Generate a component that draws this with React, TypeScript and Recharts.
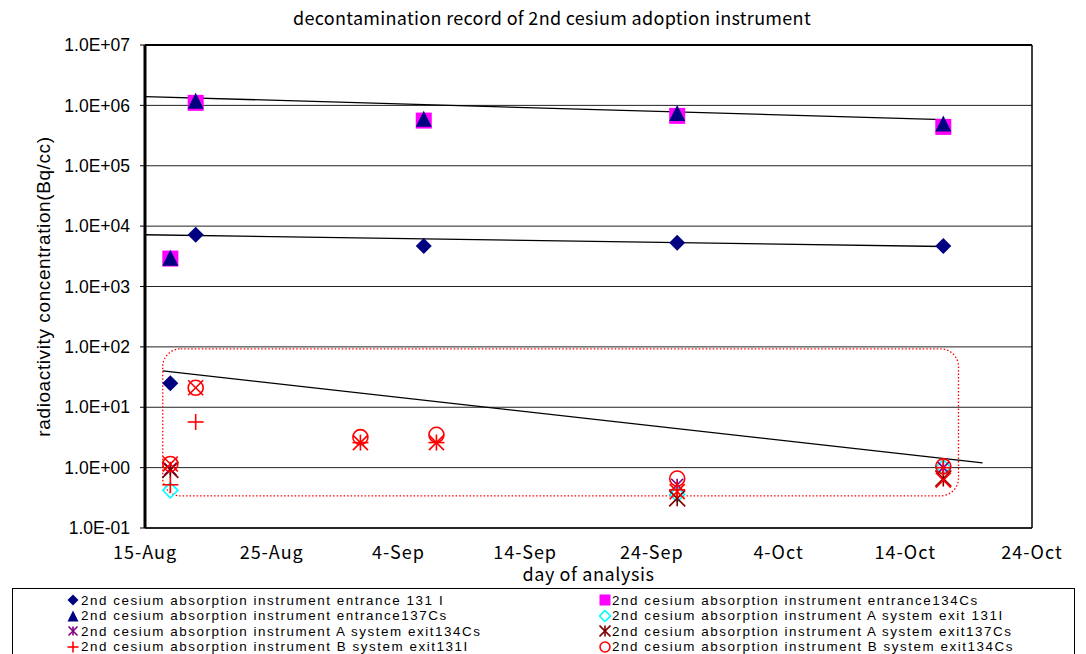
import React from 'react';
import {
  ComposedChart,
  Scatter,
  Line,
  XAxis,
  YAxis,
  CartesianGrid,
  ReferenceLine,
  ReferenceArea,
  Legend,
} from 'recharts';

// ---------- data ----------
// x values are days since 15-Aug
const X_TICKS = [0, 10, 20, 30, 40, 50, 60, 70];
const X_TICK_LABELS = ['15-Aug', '25-Aug', '4-Sep', '14-Sep', '24-Sep', '4-Oct', '14-Oct', '24-Oct'];
const Y_TICKS = [0.1, 1, 10, 100, 1000, 10000, 100000, 1000000, 10000000];
const Y_TICK_LABELS = ['1.0E-01', '1.0E+00', '1.0E+01', '1.0E+02', '1.0E+03', '1.0E+04', '1.0E+05', '1.0E+06', '1.0E+07'];

const ENTRANCE_DAYS = [2, 4, 22, 42, 63];
const ENTRANCE_131I = [25, 7200, 4700, 5300, 4700];
const ENTRANCE_134CS = [2900, 1100000, 560000, 670000, 440000];
const ENTRANCE_137CS = [3000, 1190000, 600000, 750000, 500000];

const A_DAYS = [2, 42, 63];
const A_131I = [0.42, 0.36, 1.02];
const A_134CS = [0.95, 0.52, 1.0];
const A_137CS = [0.92, 0.31, 0.66];

const B_DAYS = [2, 4, 17, 23, 42, 63];
const B_131I = [0.52, 5.7, 2.6, 2.6, 0.43, 1.0];
const B_134CS = [1.15, 21, 3.2, 3.5, 0.66, 1.05];
const B_137CS = [1.15, 21, 2.6, 2.6, 0.4, 0.62];

const TREND_HIGH_DAYS = [0, 63];
const TREND_HIGH = [1400000, 580000];
const TREND_MID_DAYS = [0, 63];
const TREND_MID = [7200, 4600];
const TREND_LOW_DAYS = [1.4, 66.1];
const TREND_LOW = [40, 1.2];

const BOX_X = [1.4, 64.2];
const BOX_Y = [0.34, 93];

const SERIES_NAMES = [
  '2nd cesium absorption instrument entrance 131 I',
  '2nd cesium absorption instrument entrance134Cs',
  '2nd cesium absorption instrument entrance137Cs',
  '2nd cesium absorption instrument A system exit 131I',
  '2nd cesium absorption instrument A system exit134Cs',
  '2nd cesium absorption instrument A system exit137Cs',
  '2nd cesium absorption instrument B system exit131I',
  '2nd cesium absorption instrument B system exit134Cs',
  '2nd cesium absorption instrument B system exit137Cs',
];
// the reference legend is cut off after the first eight entries
const LEGEND_VISIBLE = 8;

const toPoints = (days: number[], vals: number[]) => days.map((x, i) => ({ x, y: vals[i] }));

type Kind = 'diamond' | 'square' | 'triangle' | 'diamondOpen' | 'star' | 'plus' | 'circle' | 'x';

function Marker({ kind, cx, cy, s, color }: { kind: Kind; cx: number; cy: number; s: number; color: string }) {
  const h = s / 2;
  const sw = 1.6;
  switch (kind) {
    case 'diamond':
      return <polygon points={`${cx},${cy - h} ${cx + h},${cy} ${cx},${cy + h} ${cx - h},${cy}`} fill={color} />;
    case 'square':
      return <rect x={cx - h} y={cy - h} width={s} height={s} fill={color} />;
    case 'triangle':
      return <polygon points={`${cx},${cy - h} ${cx + h},${cy + h} ${cx - h},${cy + h}`} fill={color} />;
    case 'diamondOpen':
      return (
        <polygon
          points={`${cx},${cy - h} ${cx + h},${cy} ${cx},${cy + h} ${cx - h},${cy}`}
          fill="none"
          stroke={color}
          strokeWidth={sw}
        />
      );
    case 'star':
      return (
        <g stroke={color} strokeWidth={sw}>
          <line x1={cx - h} y1={cy - h} x2={cx + h} y2={cy + h} />
          <line x1={cx - h} y1={cy + h} x2={cx + h} y2={cy - h} />
          <line x1={cx} y1={cy - h} x2={cx} y2={cy + h} />
        </g>
      );
    case 'plus':
      return (
        <g stroke={color} strokeWidth={sw}>
          <line x1={cx - h} y1={cy} x2={cx + h} y2={cy} />
          <line x1={cx} y1={cy - h} x2={cx} y2={cy + h} />
        </g>
      );
    case 'circle':
      return <circle cx={cx} cy={cy} r={h - 0.5} fill="none" stroke={color} strokeWidth={sw} />;
    case 'x':
      return (
        <g stroke={color} strokeWidth={sw}>
          <line x1={cx - h} y1={cy - h} x2={cx + h} y2={cy + h} />
          <line x1={cx - h} y1={cy + h} x2={cx + h} y2={cy - h} />
        </g>
      );
  }
  return null;
}

const SERIES = [
  { name: SERIES_NAMES[0], data: toPoints(ENTRANCE_DAYS, ENTRANCE_131I), kind: 'diamond' as Kind, color: '#000080', size: 16 },
  { name: SERIES_NAMES[1], data: toPoints(ENTRANCE_DAYS, ENTRANCE_134CS), kind: 'square' as Kind, color: '#FF00FF', size: 16 },
  { name: SERIES_NAMES[2], data: toPoints(ENTRANCE_DAYS, ENTRANCE_137CS), kind: 'triangle' as Kind, color: '#000080', size: 16 },
  { name: SERIES_NAMES[3], data: toPoints(A_DAYS, A_131I), kind: 'diamondOpen' as Kind, color: '#00FFFF', size: 15 },
  { name: SERIES_NAMES[4], data: toPoints(A_DAYS, A_134CS), kind: 'star' as Kind, color: '#800080', size: 12 },
  { name: SERIES_NAMES[5], data: toPoints(A_DAYS, A_137CS), kind: 'star' as Kind, color: '#800000', size: 16 },
  { name: SERIES_NAMES[6], data: toPoints(B_DAYS, B_131I), kind: 'plus' as Kind, color: '#FF0000', size: 16 },
  { name: SERIES_NAMES[7], data: toPoints(B_DAYS, B_134CS), kind: 'circle' as Kind, color: '#FF0000', size: 16 },
  { name: SERIES_NAMES[8], data: toPoints(B_DAYS, B_137CS), kind: 'x' as Kind, color: '#FF0000', size: 15 },
];

const TRENDS = [
  toPoints(TREND_HIGH_DAYS, TREND_HIGH),
  toPoints(TREND_MID_DAYS, TREND_MID),
  toPoints(TREND_LOW_DAYS, TREND_LOW),
];

const GOTHIC = '"Noto Sans CJK JP", "Noto Sans", sans-serif';
const ARIAL = '"Liberation Sans", Arial, sans-serif';

const CHART_W = 1078;
const CHART_H = 646;
const MARGIN = { top: 37, right: 54, bottom: 86, left: 30 };
const X_AXIS_H = 40;
const PLOT_CENTER_Y = MARGIN.top + (CHART_H - MARGIN.top - MARGIN.bottom - X_AXIS_H) / 2;

function LegendBox() {
  const items = SERIES.slice(0, LEGEND_VISIBLE);
  const rows = Math.ceil(items.length / 2);
  return (
    <div
      style={{
        position: 'relative',
        width: 1063,
        height: 16 + rows * 15.5,
        border: '1px solid #000',
        background: '#fff',
        boxSizing: 'border-box',
        fontFamily: ARIAL,
        fontSize: 13.4,
        letterSpacing: 1.55,
        color: '#000',
      }}
    >
      {items.map((s, i) => {
        const col = i % 2;
        const row = Math.floor(i / 2);
        const center = 11 + row * 15.5;
        const markerLeft = col ? 586 : 54;
        const textLeft = col ? 599 : 68;
        return (
          <React.Fragment key={s.name}>
            <svg
              width={12}
              height={12}
              style={{ position: 'absolute', left: markerLeft, top: center - 6 }}
            >
              <Marker kind={s.kind} cx={6} cy={6} s={s.kind === 'star' && i === 4 ? 9 : 11} color={s.color} />
            </svg>
            <span
              style={{
                position: 'absolute',
                left: textLeft,
                top: center - 7.5,
                lineHeight: '15px',
                whiteSpace: 'nowrap',
              }}
            >
              {s.name}
            </span>
          </React.Fragment>
        );
      })}
    </div>
  );
}

const RoundedBox = (props: any) => {
  const { x, y, width, height } = props;
  return (
    <rect
      x={x}
      y={y}
      width={width}
      height={height}
      rx={18}
      ry={18}
      fill="none"
      stroke="#FF0000"
      strokeWidth={1.3}
      strokeDasharray="1.5 2"
    />
  );
};

export default function App() {
  return (
    <div style={{ position: 'relative', width: CHART_W, height: CHART_H }}>
      <div
        style={{
          position: 'absolute',
          left: 0,
          width: 1088,
          top: -1,
          textAlign: 'center',
          fontFamily: GOTHIC,
          fontSize: 18,
          letterSpacing: 0.3,
          lineHeight: '20px',
          color: '#000',
          zIndex: 2,
        }}
      >
        decontamination record of 2nd cesium adoption instrument
      </div>
      <ComposedChart width={CHART_W} height={CHART_H} margin={MARGIN}>
        <CartesianGrid vertical={false} stroke="#222" strokeWidth={1} />
        <XAxis
          type="number"
          dataKey="x"
          domain={[0, 70]}
          ticks={X_TICKS}
          interval={0}
          allowDataOverflow
          tickFormatter={(v: number) => X_TICK_LABELS[X_TICKS.indexOf(v)] ?? ''}
          tick={{ fill: '#000', fontSize: 18, fontFamily: GOTHIC, letterSpacing: 1 }}
          tickLine={false}
          tickSize={0}
          tickMargin={18}
          axisLine={{ stroke: '#000', strokeWidth: 1.5 }}
          height={X_AXIS_H}
          label={{
            value: 'day of analysis',
            position: 'bottom',
            offset: 0,
            fill: '#000',
            fontSize: 18,
            fontFamily: GOTHIC,
            letterSpacing: 0.6,
          }}
        />
        <YAxis
          type="number"
          dataKey="y"
          scale="log"
          domain={[0.1, 10000000]}
          ticks={Y_TICKS}
          interval={0}
          allowDataOverflow
          tickFormatter={(v: number) => Y_TICK_LABELS[Y_TICKS.indexOf(v)] ?? ''}
          tick={{ fill: '#000', fontSize: 17.5, fontFamily: ARIAL }}
          tickSize={5}
          tickMargin={10}
          tickLine={{ stroke: '#000' }}
          axisLine={{ stroke: '#000', strokeWidth: 3 }}
          width={107}
          label={{
            content: () => (
              <text
                x={35}
                y={PLOT_CENTER_Y}
                transform={`rotate(-90 35 ${PLOT_CENTER_Y})`}
                textAnchor="middle"
                dominantBaseline="central"
                fontSize={19}
                letterSpacing={0.6}
                fontFamily={ARIAL}
                fill="#000"
              >
                radioactivity concentration(Bq/cc)
              </text>
            ),
          }}
        />
        <ReferenceLine y={10000000} stroke="#000" strokeWidth={2} ifOverflow="visible" />
        <ReferenceLine x={70} stroke="#000" strokeWidth={1.5} ifOverflow="visible" />
        <ReferenceArea
          x1={BOX_X[0]}
          x2={BOX_X[1]}
          y1={BOX_Y[0]}
          y2={BOX_Y[1]}
          ifOverflow="visible"
          shape={RoundedBox}
        />
        {TRENDS.map((t, i) => (
          <Line
            key={'trend' + i}
            data={t}
            dataKey="y"
            type="linear"
            stroke="#000"
            strokeWidth={1.3}
            dot={false}
            activeDot={false}
            legendType="none"
            isAnimationActive={false}
          />
        ))}
        {SERIES.map((s) => (
          <Scatter
            key={s.name}
            name={s.name}
            data={s.data}
            dataKey="y"
            isAnimationActive={false}
            shape={(p: any) => <Marker kind={s.kind} cx={p.cx} cy={p.cy} s={s.size} color={s.color} />}
          />
        ))}
        <Legend
          layout="vertical"
          align="center"
          verticalAlign="middle"
          wrapperStyle={{ left: 4, top: 580, width: 1063 }}
          content={() => <LegendBox />}
        />
      </ComposedChart>
    </div>
  );
}
